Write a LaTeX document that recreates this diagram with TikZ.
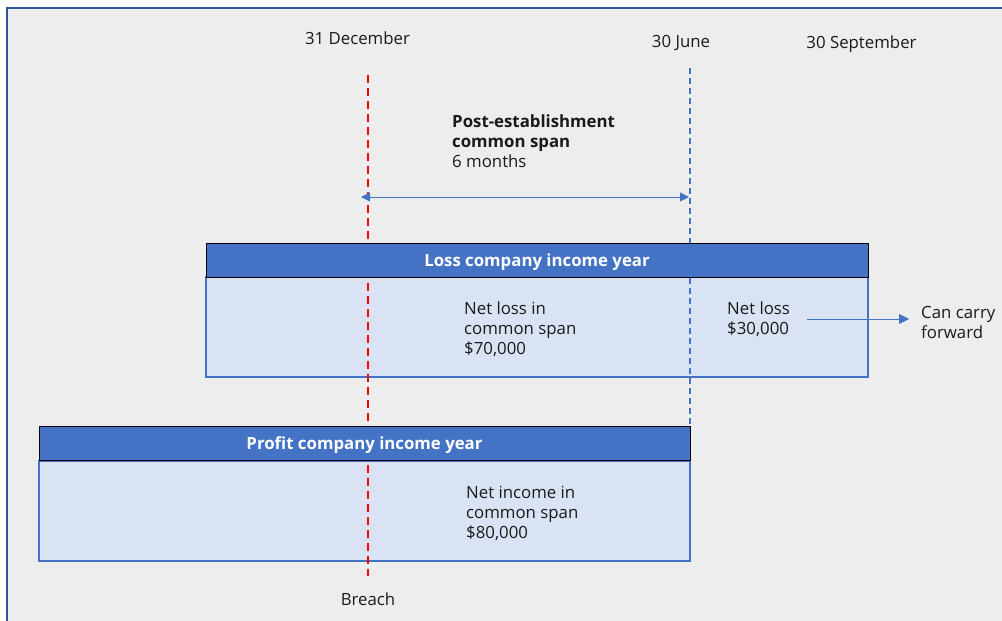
\documentclass[tikz,border=0pt]{standalone}
\usepackage{fontspec}
\setmainfont{Open Sans}
\usetikzlibrary{arrows.meta}
\definecolor{frameblue}{HTML}{2F5597}
\definecolor{bggray}{HTML}{EDEDED}
\definecolor{hdrblue}{HTML}{4472C4}
\definecolor{bodyblue}{HTML}{DAE3F3}
\definecolor{txt}{HTML}{1A1A1A}
\tikzset{
  lbl/.style={font=\fontsize{16.8}{20}\selectfont, text=txt, inner sep=0pt, anchor=base},
  lblleft/.style={font=\fontsize{16.8}{20}\selectfont, text=txt, inner sep=0pt, anchor=north west, align=left},
  hdr/.style={draw=black, line width=1pt, fill=hdrblue},
  bodybox/.style={draw=hdrblue, line width=1.2pt, fill=bodyblue},
  hdrtext/.style={font=\fontsize{16.8}{20}\selectfont\bfseries, text=white, inner sep=0pt, anchor=base},
  redline/.style={draw=red, line width=1.6pt, dash pattern=on 8pt off 5pt},
  blueline/.style={draw=hdrblue, line width=1.2pt, dash pattern=on 6pt off 4pt},
  arr/.style={draw=hdrblue, line width=0.9pt},
}
\begin{document}
\begin{tikzpicture}[x=1pt,y=-1pt]
\useasboundingbox (0,0) rectangle (1002,621);
\fill[white] (0,0) rectangle (1002,621);
\fill[bggray] (7,8) rectangle (1003,622);
\draw[frameblue, line width=1.5pt] (7,622) -- (7,8) -- (1003,8);

% date labels
\node[lbl] (dec) at (357.5,44) {31 December};
\node[lbl] (jun) at (681,47) {30 June};
\node[lbl] (sep) at (861.5,48) {30 September};

% bodies
\draw[bodybox] (206,277) rectangle (868,377);
\draw[bodybox] (39,461) rectangle (690,561);

% dashed lines
\coordinate (rtop) at (368,75);
\coordinate (rbot) at (368,576);
\draw[redline] (rtop) -- (rbot);
\coordinate (btop) at (690,68);
\coordinate (bbot) at (690,426);
\draw[blueline] (btop) -- (bbot);

% headers
\draw[hdr] (206,243) rectangle (868,277);
\node[hdrtext] (losshdr) at (537,266) {Loss company income year};
\draw[hdr] (39,426) rectangle (690,460);
\node[hdrtext] (profhdr) at (364.5,449) {Profit company income year};

% common span
\node[lblleft] (span) at (452,115) {\textbf{Post-establishment}\\\textbf{common span}\\6 months};
\coordinate (sl) at (361,197);
\coordinate (sr) at (689,197);
\draw[arr, {Triangle[width=9pt,length=9pt]}-{Triangle[width=9pt,length=9pt]}] (sl) -- (sr);

% loss texts
\node[lblleft] (nl70) at (464,302) {Net loss in\\common span\\\$70,000};
\node[lblleft] (nl30) at (727,302) {Net loss\\\$30,000};
\node[lblleft] (carry) at (921,306) {Can carry\\forward};
\coordinate (ca) at (807,319);
\coordinate (cb) at (909,319);
\draw[arr, -{Triangle[width=10pt,length=10pt]}] (ca) -- (cb);
\node[lblleft] (ni80) at (466,486) {Net income in\\common span\\\$80,000};

\node[lbl] (breach) at (368,605) {Breach};
\end{tikzpicture}
\end{document}
